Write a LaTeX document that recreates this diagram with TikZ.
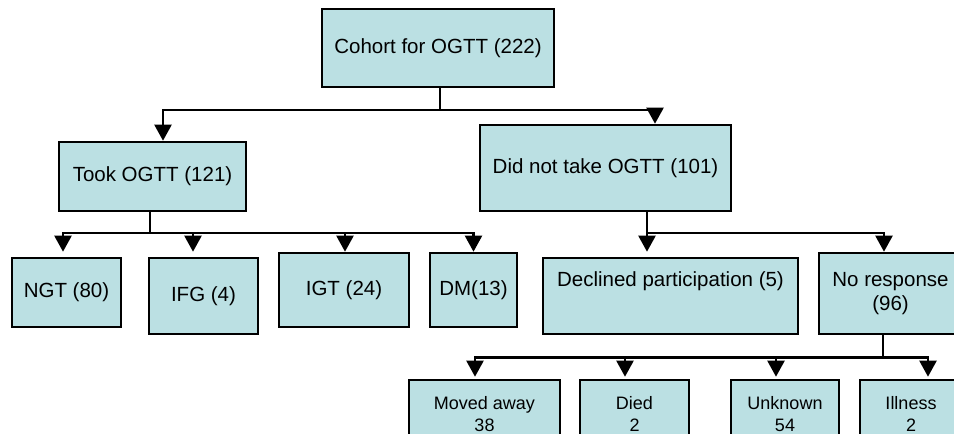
\documentclass[tikz,border=0pt]{standalone}
\usepackage{fontspec}
\setmainfont{Liberation Sans}
\usetikzlibrary{arrows.meta, positioning}
\definecolor{boxfill}{RGB}{187,224,227}

\begin{document}
\begin{tikzpicture}[
      x=1pt, y=-1pt,
      box/.style={
         draw,
         fill=boxfill,
         line width=2.6pt,
         font=\fontsize{20.5}{24.6}\selectfont,
         align=center,
         inner sep=2pt
      },
      leaf/.style={box, font=\fontsize{18}{22}\selectfont},
      link/.style={line width=2.2pt},
      arr/.style={link, -{Triangle[width=17pt,length=16pt]}}
   ]
      \useasboundingbox (0,0) rectangle (954,434);

      % boxes
      \node[box, minimum width=232pt, minimum height=78pt] (cohort) at (438,48) {Cohort for OGTT (222)};
      \node[box, minimum width=187pt, minimum height=69pt] (took) at (152.5,176.5) {Took OGTT (121)};
      \node[box, minimum width=251pt, minimum height=86pt] (didnot) at (605.5,168) {Did not take OGTT (101)};

      \node[box, minimum width=109pt, minimum height=69pt] (ngt) at (66.5,292.5) {NGT (80)};
      \node[box, minimum width=109pt, minimum height=76pt] (ifg) at (203.5,296) {IFG (4)};
      \node[box, minimum width=130pt, minimum height=74pt] (igt) at (344,290) {IGT (24)};
      \node[box, minimum width=87pt, minimum height=74pt] (dm) at (473.5,290) {DM(13)};
      \node[box, minimum width=255pt, minimum height=76pt, text depth=33pt] (declined) at (670.5,296) {Declined participation (5)};
      \node[box, minimum width=143pt, minimum height=81pt] (noresp) at (890.5,293.5) {No response\\(96)};

      \node[leaf, minimum width=151pt, minimum height=68pt] (moved) at (484.5,414) {Moved away\\38};
      \node[leaf, minimum width=109pt, minimum height=68pt] (died) at (634.5,414) {Died\\2};
      \node[leaf, minimum width=108pt, minimum height=68pt] (unknown) at (785,414) {Unknown\\54};
      \node[leaf, minimum width=102pt, minimum height=68pt] (illness) at (911,414) {Illness\\2};

      % connectors
      \coordinate (bus0) at (440,110);
      \draw[link] (cohort.south -| bus0) -- (bus0);
      \draw[arr] (bus0) -| ([xshift=10.5pt]took.north);
      \draw[arr] (bus0) -| ([xshift=49.5pt]didnot.north);

      \coordinate (bus1) at (150,233);
      \draw[link] (took.south -| bus1) -- (bus1);
      \draw[arr, shorten >=5pt] (bus1) -| ([xshift=-3.5pt]ngt.north);
      \draw[arr, shorten >=5pt] (bus1) -| ([xshift=-10.5pt]ifg.north);
      \draw[arr] (bus1) -| ([xshift=1pt]igt.north);
      \draw[arr] (bus1) -| (dm.north);

      \coordinate (bus2) at (647,233);
      \draw[link] (didnot.south -| bus2) -- (bus2);
      \draw[arr, shorten >=5pt] (bus2) -- (bus2 |- declined.north);
      \draw[arr] (bus2) -| ([xshift=-6.5pt]noresp.north);

      \coordinate (bus3) at (883,357.5);
      \draw[link] (noresp.south -| bus3) -- (bus3);
      \draw[arr, shorten >=2pt] (bus3) -| ([xshift=-9.5pt]moved.north);
      \draw[arr, shorten >=2pt] (bus3) -| ([xshift=-9.5pt]died.north);
      \draw[arr, shorten >=2pt] (bus3) -| ([xshift=-9pt]unknown.north);
      \draw[arr, shorten >=2pt] (bus3) -| ([xshift=17pt]illness.north);
   \end{tikzpicture}
\end{document}
